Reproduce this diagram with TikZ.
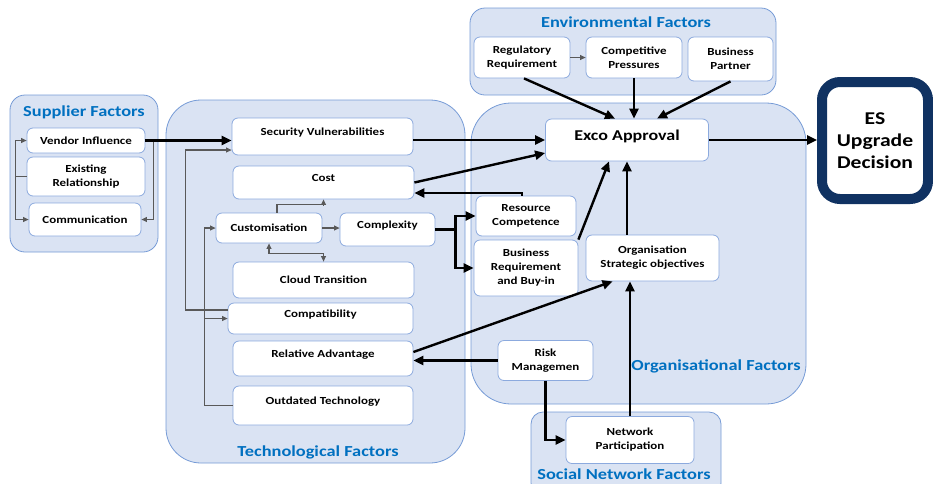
\documentclass[tikz,border=0pt]{standalone}
\usepackage{fontspec}
\setmainfont{Carlito}[FakeStretch=1.2]
\usetikzlibrary{arrows.meta}

\definecolor{panelfill}{RGB}{218,227,243}
\definecolor{paneledge}{RGB}{118,155,214}
\definecolor{titleblue}{RGB}{0,112,192}
\definecolor{boxedge}{RGB}{140,170,222}
\definecolor{thinline}{RGB}{89,89,89}
\definecolor{navy}{RGB}{16,50,98}

\tikzset{
  panel/.style={draw=paneledge, fill=panelfill, line width=0.8pt},
  paneltitle/.style={text=titleblue, font=\fontsize{15.3}{17}\selectfont\bfseries, inner sep=0pt},
  factor/.style={draw=boxedge, fill=white, rounded corners=6pt, line width=0.8pt,
    align=center, inner sep=0pt, font=\fontsize{10.8}{14}\selectfont\bfseries},
  upper/.style={text depth=9pt},
  link/.style={-{Triangle[length=10pt,width=9pt]}, line width=2.4pt},
  minor/.style={-{Triangle[length=5.5pt,width=5pt]}, draw=thinline, line width=1.1pt},
  minorboth/.style={{Triangle[length=5.5pt,width=5pt]}-{Triangle[length=5.5pt,width=5pt]}, draw=thinline, line width=1.1pt},
}

\begin{document}
\begin{tikzpicture}[x=1pt,y=-1pt]
    \useasboundingbox (0,0) rectangle (933,483);

    %panels
    \draw[panel, rounded corners=15pt] (10,95) rectangle (158,252);
    \draw[panel, rounded corners=35pt] (166,100) rectangle (465,463);
    \draw[panel, rounded corners=15pt] (470,8) rectangle (776,95);
    \draw[panel, rounded corners=40pt] (471,103) rectangle (806,404);
    \draw[panel, rounded corners=12pt] (531,412) rectangle (721,495);

    \node[paneltitle] (suptitle) at (84,112) {Supplier Factors};
    \node[paneltitle] (techtitle) at (318,452) {Technological Factors};
    \node[paneltitle] (envtitle) at (626,22) {Environmental Factors};
    \node[paneltitle] (orgtitle) at (716,366) {Organisational Factors};
    \node[paneltitle] (soctitle) at (624,474) {Social Network Factors};

    % supplier factors
    \node[factor, minimum width=118, minimum height=25] (vendor) at (86,140.5) {Vendor Influence};
    \node[factor, minimum width=118, minimum height=39] (existing) at (86,176.5) {Existing\\Relationship};
    \node[factor, minimum width=112, minimum height=33] (comm) at (85,219.5) {Communication};

    % technological factors
    \node[factor, upper, minimum width=181, minimum height=37] (secvul) at (322.5,136.5) {Security Vulnerabilities};
    \node[factor, upper, minimum width=181, minimum height=33] (cost) at (323.5,182.5) {Cost};
    \node[factor, minimum width=106, minimum height=30] (cust) at (269,228) {Customisation};
    \node[factor, upper, minimum width=95, minimum height=33] (complex) at (387.5,229.5) {Complexity};
    \node[factor, minimum width=181, minimum height=36] (cloud) at (323.5,280) {Cloud Transition};
    \node[factor, upper, minimum width=185, minimum height=31] (compat) at (320.5,318.5) {Compatibility};
    \node[factor, upper, minimum width=180, minimum height=35] (reladv) at (323,358.5) {Relative Advantage};
    \node[factor, upper, minimum width=180, minimum height=39] (outdated) at (323,405.5) {Outdated Technology};

    % environmental factors
    \node[factor, minimum width=96, minimum height=41] (regreq) at (522,57.5) {Regulatory\\Requirement};
    \node[factor, minimum width=96, minimum height=41] (comp) at (634,57.5) {Competitive\\Pressures};
    \node[factor, minimum width=85, minimum height=44] (bpart) at (730.5,59) {Business\\Partner};

    % organisational factors
    \node[factor, upper, minimum width=163, minimum height=42, font=\fontsize{15}{18}\selectfont\bfseries] (exco) at (627,140) {Exco Approval};
    \node[factor, minimum width=100, minimum height=40] (rescomp) at (526,216) {Resource\\Competence};
    \node[factor, minimum width=104, minimum height=56] (busreq) at (526,268) {Business\\Requirement\\and Buy-in};
    \node[factor, minimum width=133, minimum height=46] (orgobj) at (652.5,258) {Organisation\\Strategic objectives};
    \node[factor, minimum width=95, minimum height=40] (risk) at (545.5,360.5) {Risk\\Managemen};

    % social network factors
    \node[factor, minimum width=128, minimum height=47] (netpart) at (630,440) {Network\\Participation};

    % decision
    \node[draw=navy, line width=10pt, fill=white, rounded corners=18pt, align=center,
          minimum width=106, minimum height=117, inner sep=0pt,
          font=\fontsize{18}{22}\selectfont\bfseries] (es) at (875,140.5) {ES\\Upgrade\\Decision};

    %thin links
    \draw[minor] (existing.west) -- ++(-11,0) |- (vendor.west);
    \draw[minor] (existing.west) ++(-11,0) |- (comm.west);
    \draw[minor] (vendor.east) -- ++(8,0) |- (comm.east);
    \draw[minor] ([yshift=8.5pt]compat.west) -- ++(-42,0) |- ([yshift=-13.5pt]secvul.west);
    \draw[minor] (outdated.west) -- ++(-28,0) |- (cust.west);
    \draw[minor] (outdated.west) ++(-28,0) |- (compat.west);
    \draw[minor] ([xshift=8pt]cust.north) -- ++(0,-8) -| (cost.south);
    \draw[minor] (cust.east) -- (cust.east -| complex.west);
    \draw[minorboth] (cust.south) -- ++(0,10) -| (cloud.north);
    \draw[minor] (regreq.east) -- (comp.west);

    %thick links
    \draw[link] (vendor.east) -- (vendor.east -| secvul.west);
    \draw[link] (secvul.east |- exco.west) -- (exco.west);
    \draw[link] (cost.east) -- ([yshift=-13pt]exco.west);
    \draw[link] ([xshift=-4pt]rescomp.north) |- ([yshift=-10.5pt]cost.east);
    \draw[link] (complex.east) -- ++(20,0) |- (rescomp.west);
    \draw[link] (complex.east) ++(20,0) |- (busreq.west);
    \draw[link] (busreq.north east) -- ([xshift=-18pt]exco.south);
    \draw[link] (exco.south |- orgobj.north) -- (exco.south);
    \draw[link] ([yshift=6.5pt]reladv.east) -- ([xshift=-40pt]orgobj.south);
    \draw[link] (risk.west) -- (risk.west -| reladv.east);
    \draw[link] (risk.south) |- (netpart.west);
    \draw[link] (netpart.north) -- (netpart.north |- orgobj.south);
    \draw[link] ([xshift=2pt]regreq.south) -- ([xshift=-12pt]exco.north);
    \draw[link] (comp.south) -- (comp.south |- exco.north);
    \draw[link] (bpart.south) -- ([xshift=30pt]exco.north);
    \draw[link] (exco.east) -- (exco.east -| es.west);
\end{tikzpicture}
\end{document}
